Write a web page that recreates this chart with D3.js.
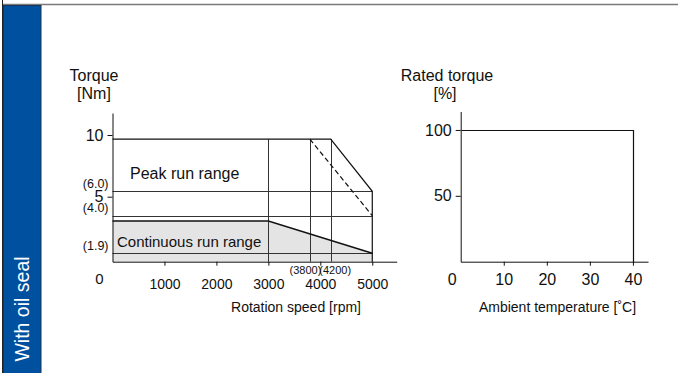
<!DOCTYPE html>
<html>
<head>
<meta charset="utf-8">
<script src="https://cdn.jsdelivr.net/npm/d3@7/dist/d3.min.js"></script>
<style>
  html, body { margin: 0; padding: 0; background: #fff; }
  svg { display: block; }
  text { font-family: "Liberation Sans", Arial, Helvetica, sans-serif; fill: #111; }
</style>
</head>
<body>
<svg id="chart" width="678" height="373"></svg>
<script>
// ---------- data ----------
const sideLabel = "With oil seal";

// left chart: torque vs rotation speed (schematic)
const speedTicks = [1000, 2000, 3000, 4000, 5000];
const torqueTicks = [5, 10];
const torqueMarks = [6.0, 4.0, 1.9];
const torqueMarkLabels = ["(6.0)", "(4.0)", "(1.9)"];
const speedMarks = [3800, 4200];
const speedMarkLabels = ["(3800)", "(4200)"];
const peakSpeed = [0, 4200, 5000, 5000];
const peakTorque = [9.7, 9.7, 6.0, 0];
const peakDashSpeed = [3800, 5000];
const peakDashTorque = [9.7, 4.0];
const contSpeed = [0, 3000, 5000];
const contTorque = [3.7, 3.7, 1.9];
const vertSpeeds = [3000, 3800, 4200];
const leftTitle = ["Torque", "[Nm]"];
const leftXTitle = "Rotation speed [rpm]";
const peakLabel = "Peak run range";
const contLabel = "Continuous run range";

// right chart: rated torque vs ambient temperature
const tempTicks = [10, 20, 30, 40];
const ratedTicks = [50, 100];
const tempPts = [0, 40, 40];
const ratedPct = [100, 100, 0];
const rightTitle = ["Rated torque", "[%]"];
const rightXTitle = "Ambient temperature [˚C]";

// ---------- drawing ----------
const svg = d3.select("#chart");

// frame decorations
svg.append("line").attr("x1", 2.5).attr("x2", 2.5).attr("y1", 0).attr("y2", 373)
  .attr("stroke", "#222").attr("stroke-width", 1);
svg.append("line").attr("x1", 3).attr("x2", 678).attr("y1", 4.5).attr("y2", 4.5)
  .attr("stroke", "#7a7a7a").attr("stroke-width", 1.5);
svg.append("rect").attr("x", 3.5).attr("y", 5.5).attr("width", 37.5).attr("height", 370)
  .attr("fill", "#0050a0").attr("stroke", "#1c3358").attr("stroke-width", 1);
svg.append("text").text(sideLabel)
  .attr("transform", "translate(29,309) rotate(-90)")
  .attr("text-anchor", "middle").attr("font-size", 19.5)
  .style("fill", "#fff");

// ---- left chart scales ----
const x1 = d3.scaleLinear().domain([0, 5470]).range([112.5, 396.7]);
const y1 = d3.scaleLinear()
  .domain([0, 1.9, 4.0, 5, 6.0, 10, 11.56])
  .range([261.7, 253.3, 215.7, 196.7, 191.3, 135, 113]);

const g1 = svg.append("g");

// continuous run range fill
const contArea = d3.area()
  .x((d, i) => x1(contSpeed[i]))
  .y0(y1(0))
  .y1((d, i) => y1(contTorque[i]));
g1.append("path").datum(contSpeed).attr("d", contArea)
  .attr("fill", "#e4e4e4").attr("stroke", "none");

// horizontal torque marks
g1.selectAll("line.hmark").data(torqueMarks).join("line")
  .attr("x1", x1(0)).attr("x2", x1(5000))
  .attr("y1", d => Math.round(y1(d)) + 0.5).attr("y2", d => Math.round(y1(d)) + 0.5)
  .attr("stroke", "#333").attr("stroke-width", 1);

// vertical speed lines
g1.selectAll("line.vmark").data(vertSpeeds).join("line")
  .attr("x1", d => Math.round(x1(d)) + 0.5).attr("x2", d => Math.round(x1(d)) + 0.5)
  .attr("y1", y1(peakTorque[0])).attr("y2", y1(0))
  .attr("stroke", "#333").attr("stroke-width", 1);

// peak outline
const line1 = d3.line().x(d => x1(d[0])).y(d => y1(d[1]));
g1.append("path").datum(peakSpeed.map((s, i) => [s, peakTorque[i]]))
  .attr("d", line1).attr("fill", "none").attr("stroke", "#111").attr("stroke-width", 1.2);
g1.append("path").datum(peakDashSpeed.map((s, i) => [s, peakDashTorque[i]]))
  .attr("d", line1).attr("fill", "none").attr("stroke", "#111").attr("stroke-width", 1.2)
  .attr("stroke-dasharray", "5,3");
// continuous outline
g1.append("path").datum(contSpeed.map((s, i) => [s, contTorque[i]]))
  .attr("d", line1).attr("fill", "none").attr("stroke", "#111").attr("stroke-width", 1.5);

// axes
const ax1 = g1.append("g").attr("transform", `translate(0,${y1(0)})`)
  .call(d3.axisBottom(x1).tickValues(speedTicks).tickFormat(d3.format("d"))
    .tickSize(4).tickPadding(13.5).tickSizeOuter(0));
ax1.selectAll("text").attr("font-size", 14);
const ay1 = g1.append("g").attr("transform", `translate(${x1(0)},0)`)
  .call(d3.axisLeft(y1).tickValues(torqueTicks).tickFormat(d3.format("d"))
    .tickSize(5).tickPadding(4).tickSizeOuter(0));
ay1.selectAll("text").attr("font-size", 16);
[ax1, ay1].forEach(a => {
  a.select(".domain").attr("stroke", "#111");
  a.selectAll(".tick line").attr("stroke", "#111");
  a.selectAll("text").style("fill", "#111");
  a.attr("font-family", null);
});

// torque mark labels
g1.selectAll("text.tm").data(torqueMarks).join("text")
  .attr("x", x1(0) - 4).attr("y", d => y1(d) - 3.5)
  .attr("text-anchor", "end").attr("font-size", 12.5)
  .text((d, i) => torqueMarkLabels[i]);

// speed mark labels
g1.selectAll("text.sm").data(speedMarks).join("text")
  .attr("x", (d, i) => x1(d) + (i === 0 ? -4.5 : 4.5)).attr("y", y1(0) + 12.5)
  .attr("text-anchor", "middle").attr("font-size", 11)
  .text((d, i) => speedMarkLabels[i]);

// origin label
g1.append("text").attr("x", x1(0) - 13).attr("y", y1(0) + 22)
  .attr("text-anchor", "middle").attr("font-size", 15).text("0");

// titles
g1.selectAll("text.t1").data(leftTitle).join("text")
  .attr("x", 94).attr("y", (d, i) => i === 0 ? 80.5 : 99)
  .attr("text-anchor", "middle").attr("font-size", 16).text(d => d);
g1.append("text").attr("x", 296).attr("y", 312)
  .attr("text-anchor", "middle").attr("font-size", 14).text(leftXTitle);

g1.append("text").attr("x", x1(0) + 17.5).attr("y", 179)
  .attr("font-size", 16).text(peakLabel);
g1.append("text").attr("x", x1(0) + 4.5).attr("y", 247)
  .attr("font-size", 15).text(contLabel);

// ---- right chart ----
const x2 = d3.scaleLinear().domain([0, 43.5]).range([460.7, 648]);
const y2 = d3.scaleLinear().domain([0, 114]).range([261.7, 111.5]);
const g2 = svg.append("g");

g2.append("path").datum(tempPts.map((t, i) => [t, ratedPct[i]]))
  .attr("d", d3.line().x(d => Math.round(x2(d[0])) + 0.5).y(d => Math.round(y2(d[1])) + 0.5))
  .attr("fill", "none").attr("stroke", "#111").attr("stroke-width", 1.2);

const ax2 = g2.append("g").attr("transform", `translate(0,${y2(0)})`)
  .call(d3.axisBottom(x2).tickValues(tempTicks).tickSize(4).tickPadding(7.5).tickSizeOuter(0));
ax2.selectAll("text").attr("font-size", 16);
const ay2 = g2.append("g").attr("transform", `translate(${x2(0)},0)`)
  .call(d3.axisLeft(y2).tickValues(ratedTicks).tickSize(5).tickPadding(4).tickSizeOuter(0));
ay2.selectAll("text").attr("font-size", 16);
[ax2, ay2].forEach(a => {
  a.select(".domain").attr("stroke", "#111");
  a.selectAll(".tick line").attr("stroke", "#111");
  a.selectAll("text").style("fill", "#111");
  a.attr("font-family", null);
});

g2.append("text").attr("x", x2(0) - 8.5).attr("y", y2(0) + 23)
  .attr("text-anchor", "middle").attr("font-size", 16).text("0");

g2.selectAll("text.t2").data(rightTitle).join("text")
  .attr("x", (d, i) => i === 0 ? 447 : 445).attr("y", (d, i) => i === 0 ? 80.5 : 99)
  .attr("text-anchor", "middle").attr("font-size", 16).text(d => d);
g2.append("text").attr("x", 557.5).attr("y", 312)
  .attr("text-anchor", "middle").attr("font-size", 14).text(rightXTitle);
</script>
</body>
</html>
